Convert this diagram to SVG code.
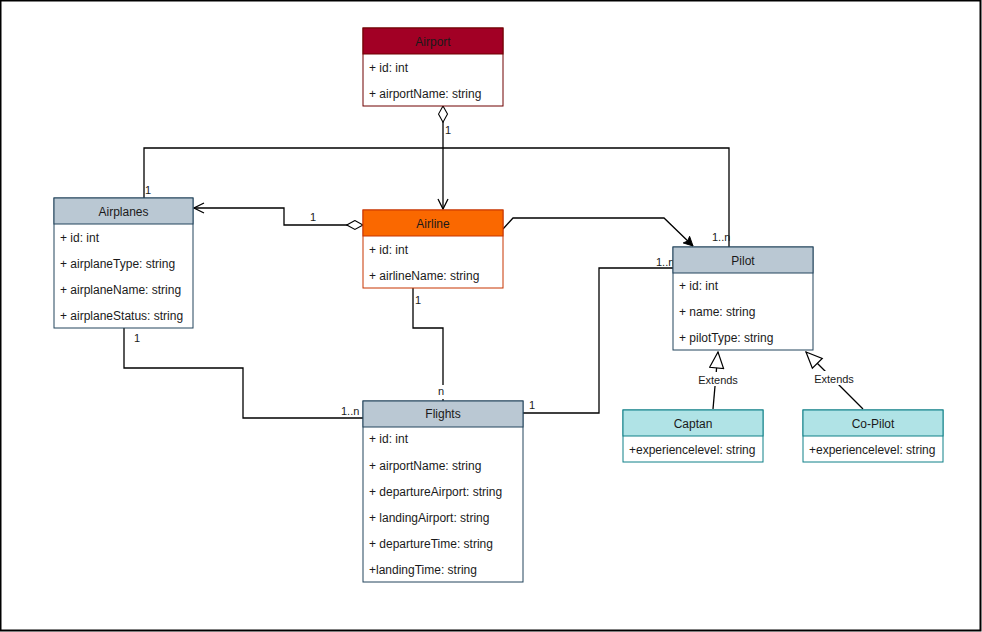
<svg xmlns="http://www.w3.org/2000/svg" width="982" height="632" viewBox="0 0 982 632">
<defs>
<style>
text{font-family:"Liberation Sans",Arial,sans-serif;fill:#1a1a1a}
.h{font-size:12px;text-anchor:middle}
.a{font-size:12px}
.l{font-size:11px}
.e{font-size:11px;text-anchor:middle}
.c{fill:none;stroke:#000;stroke-width:1.3}
.body{fill:#fff}
</style>
<marker id="open" viewBox="0 0 12 12" refX="11" refY="6" markerWidth="12" markerHeight="12" markerUnits="userSpaceOnUse" orient="auto">
<path d="M1,1 L11,6 L1,11" fill="none" stroke="#000" stroke-width="1.3"/>
</marker>
<marker id="dia" viewBox="0 0 20 12" refX="1" refY="6" markerWidth="18" markerHeight="11" markerUnits="userSpaceOnUse" orient="auto">
<path d="M1,6 L10,1 L19,6 L10,11 Z" fill="#fff" stroke="#000" stroke-width="1.2"/>
</marker>
<marker id="fill" viewBox="0 0 12 12" refX="11" refY="6" markerWidth="11" markerHeight="11" markerUnits="userSpaceOnUse" orient="auto">
<path d="M1,1 L11,6 L1,11 L3,6 Z" fill="#000" stroke="#000" stroke-width="1"/>
</marker>
<marker id="tri" viewBox="0 0 18 16" refX="17" refY="8" markerWidth="18" markerHeight="16" markerUnits="userSpaceOnUse" orient="auto">
<path d="M1,1 L17,8 L1,15 Z" fill="#fff" stroke="#000" stroke-width="1.2"/>
</marker>
</defs>
<rect x="0.5" y="0.5" width="980" height="630" fill="#fff" stroke="#000" stroke-width="2"/>

<g id="connectors">
<path class="c" d="M443,106 L443,209" marker-start="url(#dia)" marker-end="url(#open)"/>
<path class="c" d="M363,225 L284,225 L284,208 L194,208" marker-start="url(#dia)" marker-end="url(#open)"/>
<path class="c" d="M144,198 L144,148 L729,148 L729,247"/>
<path class="c" d="M503,229 L513,218 L664,218 L693,246" marker-end="url(#fill)"/>
<path class="c" d="M413,288 L413,328 L443,328 L443,401"/>
<path class="c" d="M124,328 L124,368 L243,368 L243,418 L363,418"/>
<path class="c" d="M523,413 L599,413 L599,268 L673,268"/>
<path class="c" d="M713,409 L718,352" marker-end="url(#tri)"/>
<path class="c" d="M863,409 L806,352" marker-end="url(#tri)"/>
<rect x="696" y="372" width="44" height="14" fill="#fff"/>
<rect x="812" y="371" width="44" height="14" fill="#fff"/>
<rect x="437" y="385" width="12" height="14" fill="#fff"/>
<text class="e" x="718" y="384">Extends</text>
<text class="e" x="834" y="383">Extends</text>
<text class="l" x="445" y="134">1</text>
<text class="l" x="310" y="221">1</text>
<text class="l" x="145" y="194">1</text>
<text class="l" x="712" y="241">1..n</text>
<text class="l" x="415" y="304">1</text>
<text class="l" x="438" y="395">n</text>
<text class="l" x="134" y="342">1</text>
<text class="l" x="341" y="415">1..n</text>
<text class="l" x="529" y="409">1</text>
<text class="l" x="656" y="266">1..n</text>
</g>

<g id="airport">
<rect x="363" y="28" width="140" height="78" class="body" stroke="#6f0000"/>
<rect x="363" y="28" width="140" height="26" fill="#a20025" stroke="#6f0000"/>
<text class="h" x="433" y="46">Airport</text>
<text class="a" x="369" y="72">+ id: int</text>
<text class="a" x="369" y="98">+ airportName: string</text>
</g>

<g id="airplanes">
<rect x="54" y="198" width="139" height="130" class="body" stroke="#23445d"/>
<rect x="54" y="198" width="139" height="26" fill="#bac8d3" stroke="#23445d"/>
<text class="h" x="123.5" y="216">Airplanes</text>
<text class="a" x="60" y="242">+ id: int</text>
<text class="a" x="60" y="268">+ airplaneType: string</text>
<text class="a" x="60" y="294">+ airplaneName: string</text>
<text class="a" x="60" y="320">+ airplaneStatus: string</text>
</g>

<g id="airline">
<rect x="363" y="210" width="140" height="78" class="body" stroke="#c73500"/>
<rect x="363" y="210" width="140" height="26" fill="#fa6800" stroke="#c73500"/>
<text class="h" x="433" y="228">Airline</text>
<text class="a" x="369" y="254">+ id: int</text>
<text class="a" x="369" y="280">+ airlineName: string</text>
</g>

<g id="pilot">
<rect x="673" y="247" width="140" height="103" class="body" stroke="#23445d"/>
<rect x="673" y="247" width="140" height="26" fill="#bac8d3" stroke="#23445d"/>
<text class="h" x="743" y="265">Pilot</text>
<text class="a" x="679" y="290">+ id: int</text>
<text class="a" x="679" y="316">+ name: string</text>
<text class="a" x="679" y="342">+ pilotType: string</text>
</g>

<g id="flights">
<rect x="363" y="401" width="160" height="181" class="body" stroke="#23445d"/>
<rect x="363" y="401" width="160" height="26" fill="#bac8d3" stroke="#23445d"/>
<text class="h" x="443" y="418">Flights</text>
<text class="a" x="369" y="443">+ id: int</text>
<text class="a" x="369" y="470">+ airportName: string</text>
<text class="a" x="369" y="496">+ departureAirport: string</text>
<text class="a" x="369" y="522">+ landingAirport: string</text>
<text class="a" x="369" y="548">+ departureTime: string</text>
<text class="a" x="369" y="574">+landingTime: string</text>
</g>

<g id="captan">
<rect x="623" y="410" width="140" height="52" class="body" stroke="#0e8088"/>
<rect x="623" y="410" width="140" height="26" fill="#b0e3e6" stroke="#0e8088"/>
<text class="h" x="693" y="428">Captan</text>
<text class="a" x="629" y="454">+experiencelevel: string</text>
</g>

<g id="copilot">
<rect x="803" y="410" width="140" height="52" class="body" stroke="#0e8088"/>
<rect x="803" y="410" width="140" height="26" fill="#b0e3e6" stroke="#0e8088"/>
<text class="h" x="873" y="428">Co-Pilot</text>
<text class="a" x="809" y="454">+experiencelevel: string</text>
</g>
</svg>
